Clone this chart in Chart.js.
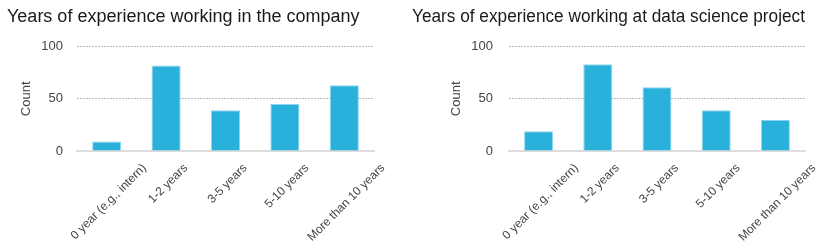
<!DOCTYPE html>
<html>
<head>
<meta charset="utf-8">
<script src="https://cdn.jsdelivr.net/npm/chart.js@4"></script>
<style>
  html, body { margin: 0; padding: 0; background: #fff; }
  #wrap { position: relative; width: 830px; height: 249px; }
  #c1wrap { position: absolute; left: 0; top: 0; width: 410px; height: 249px; }
  #c2wrap { position: absolute; left: 410px; top: 0; width: 420px; height: 249px; }
</style>
</head>
<body>
<div id="wrap">
  <div id="c1wrap"><canvas id="c1"></canvas></div>
  <div id="c2wrap"><canvas id="c2"></canvas></div>
</div>
<script>
const categories = ["0 year (e.g., intern)", "1-2 years", "3-5 years", "5-10 years", "More than 10 years"];
const companyCounts = [9, 82, 39, 45, 63];
const dsProjectCounts = [19, 83, 61, 39, 30];
const yTicks = [0, 50, 100];
const title1 = "Years of experience working in the company";
const title2 = "Years of experience working at data science project";
const yTitle = "Count";

const FONT = '"Liberation Sans", Arial, Helvetica, sans-serif';
const LABEL_FONT_SIZE = 12;

const labelShift = {
  id: 'labelShift',
  beforeDraw(chart) {
    const sc = chart.scales.x;
    const items = sc.getLabelItems(chart.chartArea);
    if (items._shifted) return;
    const ctx = chart.ctx;
    ctx.save();
    ctx.font = LABEL_FONT_SIZE + 'px ' + FONT;
    items.forEach(it => {
      const w = ctx.measureText(it.label).width;
      it.options.translation[0] += w * Math.SQRT1_2 / 2 + 2;
    });
    ctx.restore();
    items._shifted = true;
  }
};

function makeChart(id, title, values, cfg) {
  return new Chart(document.getElementById(id), {
    type: 'bar',
    data: {
      labels: categories,
      datasets: [{
        data: values,
        backgroundColor: '#29b1dc',
        borderColor: '#8fd4ee',
        borderWidth: 1,
        borderSkipped: 'start',
        categoryPercentage: 0.98,
        barPercentage: 0.5
      }]
    },
    plugins: [labelShift],
    options: {
      responsive: true,
      maintainAspectRatio: false,
      animation: false,
      layout: { padding: cfg.pad },
      plugins: {
        legend: { display: false },
        tooltip: { enabled: false },
        title: {
          display: true,
          text: title,
          align: 'start',
          color: '#1a1a1a',
          font: { family: FONT, size: 18, weight: 'normal' },
          padding: { top: 6, bottom: 19 }
        }
      },
      scales: {
        x: {
          afterFit: (scale) => { scale.height = 98; },
          grid: { display: false, drawTicks: false },
          border: { display: true, color: '#dddddd', width: 2 },
          ticks: {
            color: '#444',
            font: { family: FONT, size: LABEL_FONT_SIZE },
            minRotation: 45,
            maxRotation: 45,
            autoSkip: false,
            padding: 10
          }
        },
        y: {
          min: 0,
          max: 100,
          afterBuildTicks: (scale) => { scale.ticks = yTicks.map(v => ({ value: v })); },
          afterFit: (scale) => { scale.width = cfg.yWidth; },
          grid: {
            drawTicks: false,
            color: (ctx) => ctx.tick && ctx.tick.value === 0 ? 'rgba(0,0,0,0)' : '#b8b8b8',
            lineWidth: 1
          },
          border: { display: false, dash: [2, 1] },
          ticks: {
            color: '#444',
            font: { family: FONT, size: 13 },
            padding: cfg.tickPad
          },
          title: {
            display: true,
            text: yTitle,
            color: '#444',
            font: { family: FONT, size: 13 },
            padding: { top: cfg.titleTop, bottom: 0 }
          }
        }
      }
    }
  });
}

makeChart('c1', title1, companyCounts, { pad: { left: 7, right: 36, top: 0, bottom: 0 }, yWidth: 70, tickPad: 14, titleTop: 12 });
makeChart('c2', title2, dsProjectCounts, { pad: { left: 2, right: 25, top: 0, bottom: 0 }, yWidth: 97, tickPad: 16, titleTop: 37 });
</script>
</body>
</html>
